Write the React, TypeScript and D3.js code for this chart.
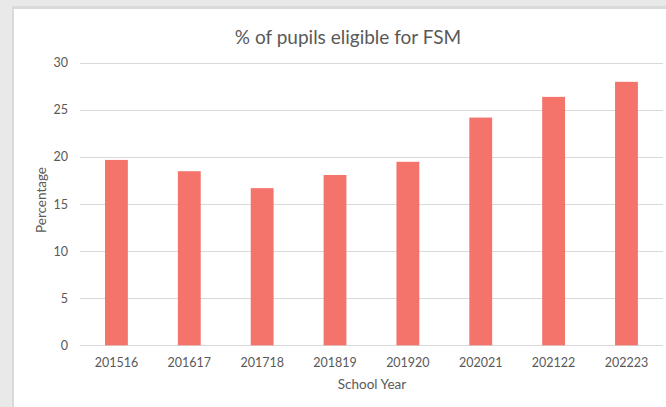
import React, { useEffect, useRef } from 'react';
import * as d3 from 'd3';

const years = ['201516', '201617', '201718', '201819', '201920', '202021', '202122', '202223'];
const fsmPct = [19.7, 18.5, 16.7, 18.1, 19.5, 24.2, 26.4, 28.0];
const yTicks = [0, 5, 10, 15, 20, 25, 30];

const WIDTH = 666;
const HEIGHT = 407;
const FONT = 'Lato, "Open Sans", sans-serif';

const FsmChart = () => {
  const ref = useRef<SVGGElement | null>(null);

  useEffect(() => {
    const g = d3.select(ref.current);
    g.selectAll('*').remove();

    const left = 80;
    const right = 662.9;
    const top = 63;
    const bottom = 345.3;

    const xScale = d3.scaleBand<string>().domain(years).range([left, right]).paddingInner(0.6865).paddingOuter(0.6865 / 2);
    const yScale = d3.scaleLinear().domain([0, 30]).range([bottom, top]);

    // window frame
    g.append('rect').attr('width', WIDTH).attr('height', HEIGHT).attr('fill', '#e9e9e9');
    g.append('rect').attr('x', 12).attr('y', 6).attr('width', WIDTH).attr('height', HEIGHT).attr('fill', '#dadada');
    g.append('rect').attr('x', 14).attr('y', 9).attr('width', WIDTH).attr('height', HEIGHT).attr('fill', '#ffffff');

    // gridlines
    g.append('g')
      .selectAll('line')
      .data(yTicks)
      .join('line')
      .attr('x1', left)
      .attr('x2', right)
      .attr('y1', (d) => Math.round(yScale(d)) + 0.5)
      .attr('y2', (d) => Math.round(yScale(d)) + 0.5)
      .attr('stroke', '#d9d9d9')
      .attr('stroke-width', 1);

    // y tick labels
    g.append('g')
      .selectAll('text')
      .data(yTicks)
      .join('text')
      .attr('x', 68)
      .attr('y', (d) => yScale(d))
      .attr('dy', '0.35em')
      .attr('text-anchor', 'end')
      .style('font-family', FONT)
      .style('font-size', '12.5px')
      .attr('fill', '#595959')
      .text((d) => d);

    // bars
    g.append('g')
      .selectAll('rect')
      .data(fsmPct)
      .join('rect')
      .attr('x', (d, i) => xScale(years[i]) as number)
      .attr('width', xScale.bandwidth())
      .attr('y', (d) => yScale(d))
      .attr('height', (d) => bottom - yScale(d))
      .attr('fill', '#f4736a');

    // x tick labels
    g.append('g')
      .selectAll('text')
      .data(years)
      .join('text')
      .attr('x', (d) => (xScale(d) as number) + xScale.bandwidth() / 2)
      .attr('y', 367)
      .attr('text-anchor', 'middle')
      .style('font-family', FONT)
      .style('font-size', '12.5px')
      .attr('fill', '#595959')
      .text((d) => d);

    // axis titles
    g.append('text')
      .attr('x', 372)
      .attr('y', 389)
      .attr('text-anchor', 'middle')
      .style('font-family', FONT)
      .style('font-size', '13.5px')
      .attr('fill', '#595959')
      .text('School Year');

    g.append('text')
      .attr('transform', 'translate(46, 200) rotate(-90)')
      .attr('text-anchor', 'middle')
      .style('font-family', FONT)
      .style('font-size', '13.5px')
      .attr('fill', '#595959')
      .text('Percentage');

    // title
    g.append('text')
      .attr('x', 348)
      .attr('y', 44)
      .attr('text-anchor', 'middle')
      .style('font-family', FONT)
      .style('font-size', '19px')
      .attr('fill', '#595959')
      .text('% of pupils eligible for FSM');
  }, []);

  return (
    <svg width={WIDTH} height={HEIGHT} style={{ position: 'absolute', left: 0, top: 0 }}>
      <g ref={ref} />
    </svg>
  );
};

export default function App() {
  return <FsmChart />;
}
